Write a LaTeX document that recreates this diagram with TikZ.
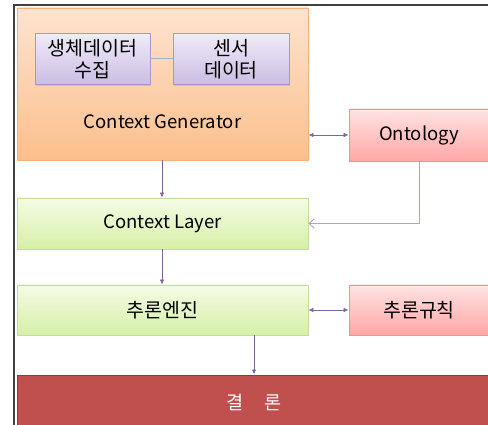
\documentclass[tikz,border=0pt]{standalone}
\usepackage{fontspec}
\setmainfont{Noto Sans CJK KR}
\usetikzlibrary{arrows.meta,shadows}
\definecolor{arr}{HTML}{8064A2}
\definecolor{arrl}{HTML}{B3A2C7}
\definecolor{orD}{HTML}{F5B07C}\definecolor{orT}{HTML}{FDE3CF}\definecolor{orB}{HTML}{FBBF8C}
\definecolor{puD}{HTML}{A796C6}\definecolor{puT}{HTML}{EFEBF7}\definecolor{puB}{HTML}{CBBDE4}
\definecolor{grD}{HTML}{C6DC9F}\definecolor{grT}{HTML}{F4FBE6}\definecolor{grB}{HTML}{D6F0A6}
\definecolor{reD}{HTML}{E09A9A}\definecolor{reT}{HTML}{FFE3E3}\definecolor{reB}{HTML}{FFA6A6}
\definecolor{dkD}{HTML}{8E3A38}\definecolor{dkF}{HTML}{C0504D}
\definecolor{lnk}{HTML}{A3AFC6}
\definecolor{frm}{HTML}{404040}
\tikzset{
  txt/.style={font=\fontsize{18.5}{22}\selectfont, inner sep=0pt, align=center},
  kor/.style={font=\fontsize{19.5}{22}\selectfont},
  boxbase/.style={rectangle, line width=0.8pt, inner sep=0pt, drop shadow={shadow xshift=1pt, shadow yshift=-1.2pt, opacity=0.25}},
  orangebox/.style={boxbase, draw=orD, top color=orT, bottom color=orB},
  purplebox/.style={boxbase, draw=puD, top color=puT, bottom color=puB, txt},
  greenbox/.style={boxbase, draw=grD, top color=grT, bottom color=grB, txt},
  redbox/.style={boxbase, draw=reD, top color=reT, bottom color=reB, txt},
  darkbox/.style={rectangle, line width=1pt, draw=dkD, fill=dkF},
  conn/.style={draw=arr, line width=0.7pt, -{Latex[length=5pt,width=4.5pt]}},
  biconn/.style={draw=arr, line width=0.7pt, {Latex[length=5pt,width=4.5pt]}-{Latex[length=5pt,width=4.5pt]}},
  openconn/.style={draw=arrl, line width=0.9pt, -{Straight Barb[length=5pt,width=9pt]}},
}
\begin{document}
\begin{tikzpicture}[x=1pt,y=-1pt]
\useasboundingbox (0,0) rectangle (488,425);
\fill[white] (0,0) rectangle (488,425);
\draw[frm, line width=1.6pt] (14,427) -- (14,5) -- (490,5);
% Context Generator
\node[orangebox, minimum width=291pt, minimum height=152pt] (cg) at (162.5,84) {};
\node[txt] (cgl) at (162.5,122) {Context Generator};
\node[purplebox, kor, minimum width=115pt, minimum height=51pt] (bio) at (92.5,59) {생체데이터\\수집};
\node[purplebox, kor, minimum width=116pt, minimum height=51pt] (sen) at (231,59) {센서\\데이터};
\draw[lnk, line width=1pt] (bio) -- (sen);
% Ontology
\node[redbox, minimum width=140pt, minimum height=52pt] (ont) at (419,135) {Ontology};
% Context Layer
\node[greenbox, minimum width=291pt, minimum height=51pt] (cl) at (162.5,223.5) {Context Layer};
% inference engine
\node[greenbox, kor, minimum width=291pt, minimum height=50pt] (eng) at (162.5,310) {추론엔진};
\node[redbox, kor, minimum width=140pt, minimum height=50pt] (rul) at (419,310) {추론규칙};
% conclusion
\node[darkbox, minimum width=478pt, minimum height=56pt] (res) at (256,403) {};
\node[txt, text=white] (resl) at (254,402) {결\hspace{1.1em}론};
% connectors
\draw[biconn] (cg.east |- ont.west) -- (ont.west);
\draw[conn] (cg.south -| 162,0) -- (cl.north -| 162,0);
\draw[openconn] (ont.south) |- (cl.east);
\draw[conn] (cl.south -| 162,0) -- (eng.north -| 162,0);
\draw[biconn] (eng.east) -- (rul.west);
\draw[conn] (eng.south -| 254,0) -- (res.north -| 254,0);
\end{tikzpicture}
\end{document}
